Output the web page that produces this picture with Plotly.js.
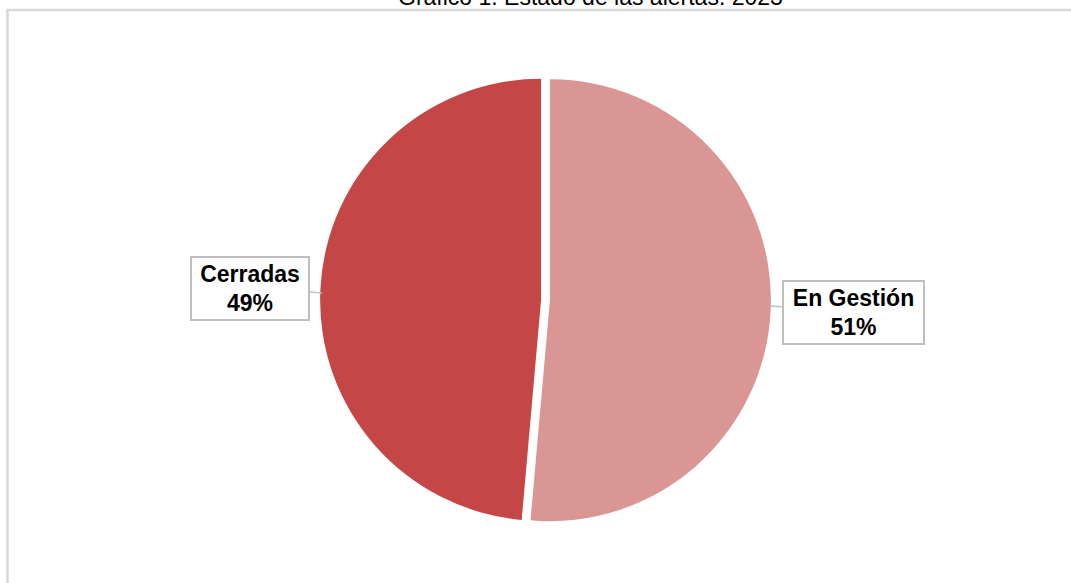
<!DOCTYPE html>
<html>
<head>
<meta charset="utf-8">
<script src="https://cdn.plot.ly/plotly-3.0.1.min.js"></script>
<style>
html,body{margin:0;padding:0;background:#fff;overflow:hidden;}
#chart{width:1071px;height:583px;}
</style>
</head>
<body>
<div id="chart"></div>
<script>
const titleText = "Gráfico 1. Estado de las alertas. 2023";
const categories = ["En Gestión", "Cerradas"];
const values = [51.4, 48.6];
const percentLabels = ["51%", "49%"];
const colors = ["#DA9695", "#C44646"];

const W = 1071, H = 583;
const px = x => x / W;
const py = y => 1 - y / H;

const trace = {
  type: "pie",
  labels: categories,
  values: values,
  sort: false,
  direction: "clockwise",
  rotation: 0,
  pull: [0.02, 0.02],
  textinfo: "none",
  hoverinfo: "label+percent",
  marker: {colors: colors, line: {color: "#ffffff", width: 0}},
  domain: {x: [0.0187, 1], y: [0.0988, 0.872]},
  showlegend: false
};

const labelFont = {family: "Liberation Sans, Arial, sans-serif", size: 23, color: "#000000"};

const annotations = [
  {
    xref: "paper", yref: "paper",
    x: px(322), y: py(293),
    ax: -72, ay: -5,
    text: "<b>" + categories[1] + "<br>" + percentLabels[1] + "</b>",
    showarrow: true, arrowhead: 0, arrowwidth: 1.5, arrowcolor: "#BFBFBF",
    font: labelFont,
    bgcolor: "#ffffff", bordercolor: "#BFBFBF", borderwidth: 2, borderpad: 1,
    width: 114, height: 59, align: "center"
  },
  {
    xref: "paper", yref: "paper",
    x: px(771), y: py(306),
    ax: 82, ay: 6,
    text: "<b>" + categories[0] + "<br>" + percentLabels[0] + "</b>",
    showarrow: true, arrowhead: 0, arrowwidth: 1.5, arrowcolor: "#BFBFBF",
    font: labelFont,
    bgcolor: "#ffffff", bordercolor: "#BFBFBF", borderwidth: 2, borderpad: 1,
    width: 137, height: 59, align: "center"
  },
  {
    xref: "paper", yref: "paper",
    x: px(590), y: py(12),
    xanchor: "center", yanchor: "bottom",
    text: titleText, showarrow: false,
    font: {family: "Liberation Sans, Arial, sans-serif", size: 23, color: "#000000"}
  }
];

const layout = {
  width: W, height: H,
  margin: {l: 0, r: 0, t: 0, b: 0},
  paper_bgcolor: "#ffffff",
  plot_bgcolor: "#ffffff",
  annotations: annotations,
  shapes: [
    {type: "rect", xref: "paper", yref: "paper",
     x0: px(7.5), x1: px(1080), y0: py(600), y1: py(10),
     line: {color: "#D9D9D9", width: 2.5}, fillcolor: "rgba(0,0,0,0)", layer: "below"}
  ]
};

Plotly.newPlot("chart", [trace], layout, {displayModeBar: false, staticPlot: true});
</script>
</body>
</html>
